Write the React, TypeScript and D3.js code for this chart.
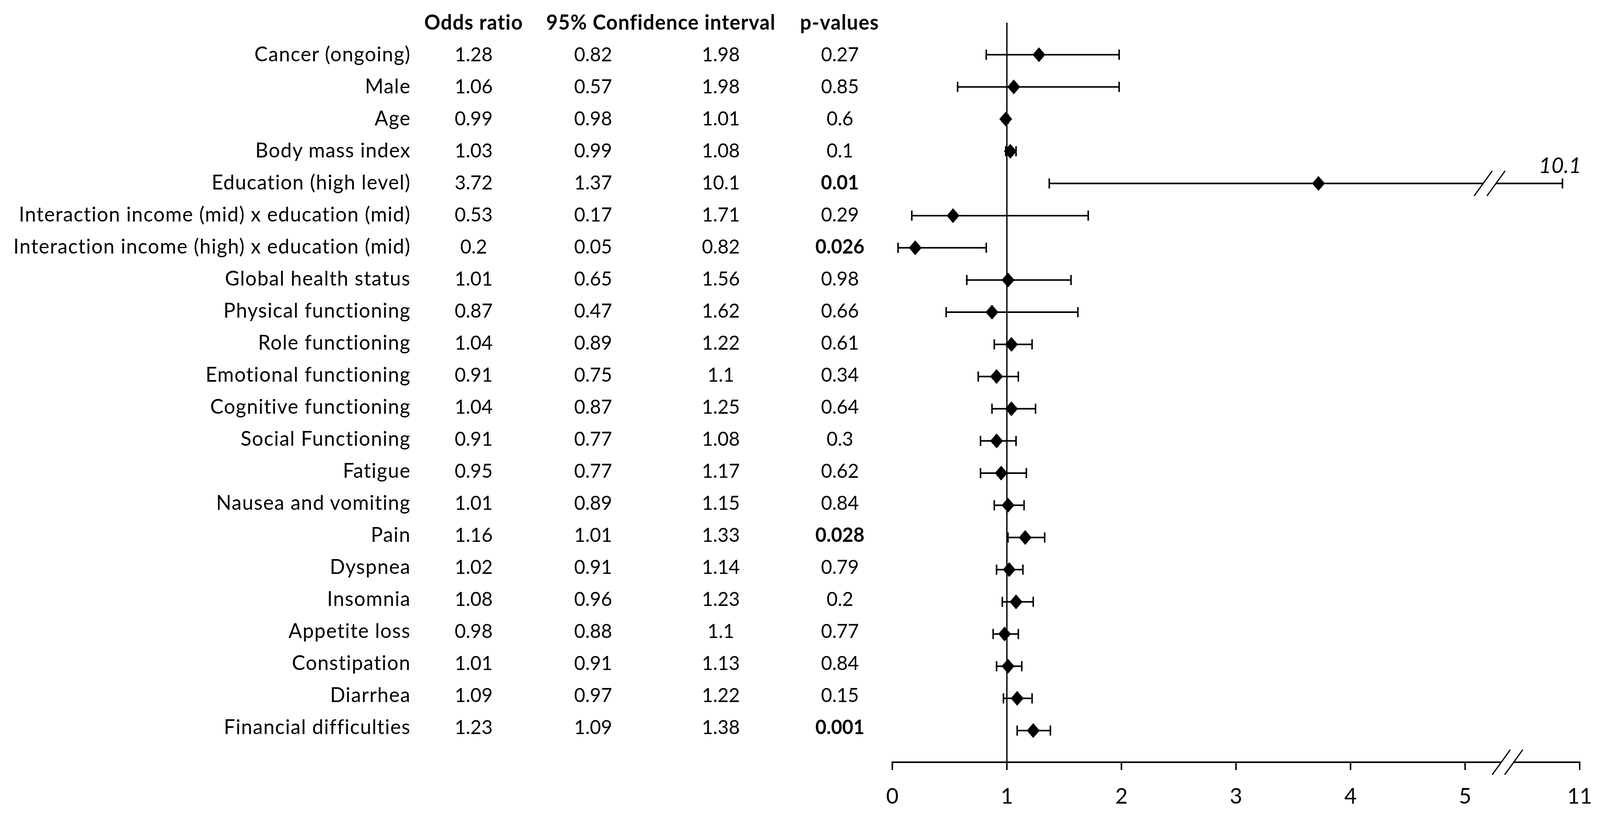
import React from "react";
import * as d3 from "d3";

const labels = [
  "Cancer (ongoing)",
  "Male",
  "Age",
  "Body mass index",
  "Education (high level)",
  "Interaction income (mid) x education (mid)",
  "Interaction income (high) x education (mid)",
  "Global health status",
  "Physical functioning",
  "Role functioning",
  "Emotional functioning",
  "Cognitive functioning",
  "Social Functioning",
  "Fatigue",
  "Nausea and vomiting",
  "Pain",
  "Dyspnea",
  "Insomnia",
  "Appetite loss",
  "Constipation",
  "Diarrhea",
  "Financial difficulties",
];
const oddsRatio = [1.28, 1.06, 0.99, 1.03, 3.72, 0.53, 0.2, 1.01, 0.87, 1.04, 0.91, 1.04, 0.91, 0.95, 1.01, 1.16, 1.02, 1.08, 0.98, 1.01, 1.09, 1.23];
const ciLower = [0.82, 0.57, 0.98, 0.99, 1.37, 0.17, 0.05, 0.65, 0.47, 0.89, 0.75, 0.87, 0.77, 0.77, 0.89, 1.01, 0.91, 0.96, 0.88, 0.91, 0.97, 1.09];
const ciUpper = [1.98, 1.98, 1.01, 1.08, 10.1, 1.71, 0.82, 1.56, 1.62, 1.22, 1.1, 1.25, 1.08, 1.17, 1.15, 1.33, 1.14, 1.23, 1.1, 1.13, 1.22, 1.38];
const pValues = [0.27, 0.85, 0.6, 0.1, 0.01, 0.29, 0.026, 0.98, 0.66, 0.61, 0.34, 0.64, 0.3, 0.62, 0.84, 0.028, 0.79, 0.2, 0.77, 0.84, 0.15, 0.001];
const headers = ["Odds ratio", "95% Confidence interval", "p-values"];
const xTicks = [0, 1, 2, 3, 4, 5, 11];
const breakValue = 5;
const significance = 0.05;

const W = 4246;
const H = 2104;
const FONT = "Lato, Calibri, Carlito, 'Noto Sans', sans-serif";

export default function App() {
  const x = d3.scaleLinear().domain([0, 5, 11]).range([2368, 3888, 4192]);
  const yMark = d3.scalePoint<string>().domain(labels).range([140, 1870]);
  const yText = d3.scalePoint<string>().domain(labels).range([157, 1879]);

  const axisY = 1951;
  const refTop = 58;
  const labelX = 1090;
  const colOR = 1257;
  const colLo = 1574;
  const colHi = 1913;
  const colP = 2229;
  const headerX = [1257, 1754, 2228];
  const headerY = 76;
  const fs = 51;
  const labelFs = 53;
  const labelLS = 1.6;
  const tickFs = 57;
  const dw = 17;
  const dh = 19;
  const cap = 13;

  const slash = (cx: number, cy: number, key: string) => (
    <line key={key} x1={cx - 24} y1={cy + 32} x2={cx + 24} y2={cy - 32} stroke="#000" strokeWidth={3.2} />
  );

  const axisBreak = [x(breakValue) + 96, x(breakValue) + 129];
  const barBreak = [x(breakValue) + 48, x(breakValue) + 82];

  return (
    <svg
      viewBox={`0 0 ${W} ${H}`}
      preserveAspectRatio="none"
      style={{ position: "fixed", left: 0, top: 0, width: "100%", height: "100%", display: "block", background: "#fff" }}
      fontFamily={FONT}
    >
      <rect x={0} y={0} width={W} height={H} fill="#fff" />
      {headers.map((h, i) => (
        <text key={h} x={headerX[i]} y={headerY} textAnchor="middle" fontSize={labelFs} fontWeight="bold" letterSpacing={1.4}>
          {h}
        </text>
      ))}
      {labels.map((l, i) => {
        const ty = yText(l)!;
        return (
          <g key={l}>
            <text x={labelX} y={ty} textAnchor="end" fontSize={labelFs} letterSpacing={labelLS}>{l}</text>
            <text x={colOR} y={ty} textAnchor="middle" fontSize={fs}>{String(oddsRatio[i])}</text>
            <text x={colLo} y={ty} textAnchor="middle" fontSize={fs}>{String(ciLower[i])}</text>
            <text x={colHi} y={ty} textAnchor="middle" fontSize={fs}>{String(ciUpper[i])}</text>
            <text x={colP} y={ty} textAnchor="middle" fontSize={fs} fontWeight={pValues[i] < significance ? "bold" : "normal"}>
              {String(pValues[i])}
            </text>
          </g>
        );
      })}
      <line x1={x(1)} x2={x(1)} y1={refTop} y2={axisY} stroke="#000" strokeWidth={3.5} />
      {labels.map((l, i) => {
        const cy = yMark(l)!;
        const lo = x(ciLower[i]);
        const hi = x(ciUpper[i]);
        const cx = x(oddsRatio[i]);
        const broken = ciUpper[i] > breakValue;
        return (
          <g key={"m" + l}>
            <line x1={lo} x2={hi} y1={cy} y2={cy} stroke="#000" strokeWidth={4} />
            <line x1={lo} x2={lo} y1={cy - cap} y2={cy + cap} stroke="#000" strokeWidth={4} />
            <line x1={hi} x2={hi} y1={cy - cap} y2={cy + cap} stroke="#000" strokeWidth={4} />
            {broken && (
              <g>
                <polygon
                  points={`${barBreak[0] - 6},${cy + 8} ${barBreak[1] - 6},${cy + 8} ${barBreak[1] + 6},${cy - 8} ${barBreak[0] + 6},${cy - 8}`}
                  fill="#fff"
                />
                {slash(barBreak[0], cy, "b1")}
                {slash(barBreak[1], cy, "b2")}
                <text x={hi + 50} y={cy - 27} textAnchor="end" fontSize={tickFs} fontStyle="italic">
                  {String(ciUpper[i])}
                </text>
              </g>
            )}
            <polygon points={`${cx},${cy - dh} ${cx + dw},${cy} ${cx},${cy + dh} ${cx - dw},${cy}`} fill="#000" />
          </g>
        );
      })}
      <line x1={x(0)} x2={x(11)} y1={axisY} y2={axisY} stroke="#000" strokeWidth={4} />
      {xTicks.map((t) => (
        <g key={"t" + t}>
          <line x1={x(t)} x2={x(t)} y1={axisY - 2} y2={axisY + 20} stroke="#000" strokeWidth={4} />
          <text x={x(t)} y={2057} textAnchor="middle" fontSize={tickFs}>{String(t)}</text>
        </g>
      ))}
      <polygon
        points={`${axisBreak[0] - 6},${axisY + 8} ${axisBreak[1] - 6},${axisY + 8} ${axisBreak[1] + 6},${axisY - 8} ${axisBreak[0] + 6},${axisY - 8}`}
        fill="#fff"
      />
      {slash(axisBreak[0], axisY, "a1")}
      {slash(axisBreak[1], axisY, "a2")}
    </svg>
  );
}
